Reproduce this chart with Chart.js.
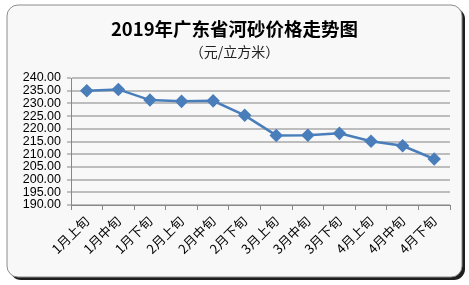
<!DOCTYPE html>
<html>
<head>
<meta charset="utf-8">
<script src="https://cdn.jsdelivr.net/npm/chart.js@4"></script>
<style>
  html, body { margin: 0; padding: 0; background: #fff; }
  #wrap { position: relative; width: 469px; height: 285px; }
</style>
</head>
<body>
<div id="wrap"><canvas id="sandChart" width="469" height="285"></canvas></div>
<script>
// 河砂价格 (元/立方米)
const periods = ["1月上旬", "1月中旬", "1月下旬", "2月上旬", "2月中旬", "2月下旬",
                 "3月上旬", "3月中旬", "3月下旬", "4月上旬", "4月中旬", "4月下旬"];
const prices = [235.0, 235.5, 231.3, 230.8, 231.0, 225.3, 217.4, 217.5, 218.2, 215.1, 213.3, 208.1];
const yMin = 190, yMax = 240, yStep = 5;

const cjkFont = "'Noto Sans CJK SC', 'Liberation Sans', sans-serif";

// rounded frame with dark shadow, like the Excel chart box
const framePlugin = {
    id: "frame",
    beforeDraw(chart) {
        const ctx = chart.ctx;
        const x = 7, y = 5, w = 455, h = 272, r = 11;
        ctx.save();
        ctx.fillStyle = "#fff";
        ctx.fillRect(0, 0, chart.width, chart.height);
        ctx.beginPath();
        ctx.roundRect(x + 3, y + 3, w, h, r);
        ctx.fillStyle = "#1e1e1e";
        ctx.fill();
        ctx.beginPath();
        ctx.roundRect(x, y, w, h, r);
        ctx.fillStyle = "#f8f8f8";
        ctx.fill();
        ctx.lineWidth = 1;
        ctx.strokeStyle = "#8c8c8c";
        ctx.stroke();
        ctx.restore();
    }
};

new Chart(document.getElementById("sandChart"), {
    type: "line",
    data: {
        labels: periods,
        datasets: [{
            data: prices,
            borderColor: "#4a7ebb",
            backgroundColor: "#4a7ebb",
            borderWidth: 2.5,
            pointStyle: "rectRot",
            pointRadius: 5,
            pointHoverRadius: 5,
            tension: 0
        }]
    },
    options: {
        responsive: false,
        animation: false,
        layout: { padding: { left: 19, right: 19, top: 0, bottom: 0 } },
        plugins: {
            legend: { display: false },
            tooltip: { enabled: false },
            title: {
                display: true,
                text: "2019年广东省河砂价格走势图",
                color: "#000",
                font: { family: cjkFont, size: 18.5, weight: "bold" },
                padding: { top: 18, bottom: 0 }
            },
            subtitle: {
                display: true,
                text: "（元/立方米）",
                color: "#222",
                font: { family: cjkFont, size: 14 },
                padding: { top: 3, bottom: 18 }
            }
        },
        scales: {
            x: {
                offset: true,
                grid: { offset: true, drawOnChartArea: false, drawTicks: true, tickLength: 5, color: "#888" },
                border: { display: true, color: "#888", width: 1 },
                ticks: {
                    color: "#000",
                    font: { family: cjkFont, size: 13 },
                    minRotation: 45,
                    maxRotation: 45,
                    autoSkip: false
                },
                afterFit(scale) { scale.height = 80; }
            },
            y: {
                min: yMin,
                max: yMax,
                ticks: {
                    stepSize: yStep,
                    autoSkip: false,
                    color: "#000",
                    font: { family: "'Liberation Sans', Arial, sans-serif", size: 12.5 },
                    padding: 6,
                    callback: v => v.toFixed(2)
                },
                grid: { color: "#bdbdbd", lineWidth: 2, tickLength: 4, tickColor: "#888", tickWidth: 1 },
                border: { display: true, color: "#888", width: 1 },
                afterFit(scale) { scale.width = 52; }
            }
        }
    },
    plugins: [framePlugin]
});
</script>
</body>
</html>
